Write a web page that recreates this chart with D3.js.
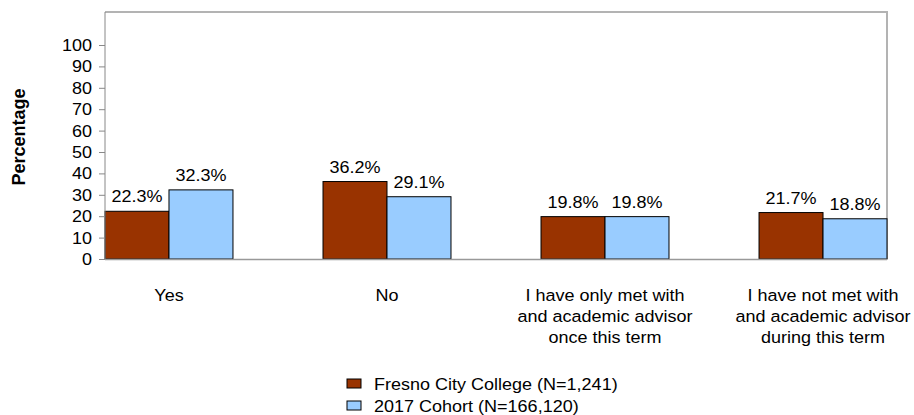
<!DOCTYPE html>
<html>
	<head>
		<meta charset="utf-8">
		<script src="https://cdn.jsdelivr.net/npm/d3@7"></script>
		<style>
			body { margin: 0; background: #fff; }
			text { font-family: Arial, "Liberation Sans", sans-serif; fill: #000; }
		</style>
	</head>
	<body> <svg width="914" height="415"></svg> </body>

	<script>
		// chart values
		var categories = [
			["Yes"],
			["No"],
			["I have only met with", "and academic advisor", "once this term"],
			["I have not met with", "and academic advisor", "during this term"]
		];
		var series_names = ["Fresno City College (N=1,241)", "2017 Cohort (N=166,120)"];
		var fresno = [22.3, 36.2, 19.8, 21.7];
		var cohort = [32.3, 29.1, 19.8, 18.8];
		var y_ticks = [0, 10, 20, 30, 40, 50, 60, 70, 80, 90, 100];

		var svg = d3.select("svg");
		var left = 105, right = 887, top_y = 12, base = 259,
			font = 17,
			stretch = 1.06,   // picture text looks a bit wide
			colors = ["#993300", "#99ccff"],
			frame_color = "#b3b3b3";

		var x = d3.scaleBand()
			.domain(d3.range(categories.length))
			.range([left, right])
			.paddingInner(0.413)
			.paddingOuter(0);

		var x_inner = d3.scaleBand()
			.domain([0, 1])
			.range([0, x.bandwidth()]);

		var y = d3.scaleLinear()
			.domain([0, 100])
			.range([base, 45]);

		// text helper, widened a little to match the picture
		function label(parent, tx, ty, str, anchor, weight) {
			return parent.append("text")
				.attr("transform", "translate(" + tx + "," + ty + ") scale(" + stretch + ",1)")
				.attr("text-anchor", anchor || "middle")
				.attr("font-size", font + "px")
				.attr("font-weight", weight || "normal")
				.text(str);
		}

		// frame top + right
		svg.append("path")
			.attr("d", "M" + left + "," + top_y + "H" + right + "V" + base)
			.attr("fill", "none")
			.attr("stroke", frame_color)
			.attr("stroke-width", 2);

		// bars
		var groups = svg.selectAll("g.grp")
			.data(categories)
			.enter().append("g")
			.attr("class", "grp")
			.attr("transform", function(d, i) { return "translate(" + x(i) + ",0)"; });

		[fresno, cohort].forEach(function(vals, s) {
			groups.append("rect")
				.attr("x", x_inner(s))
				.attr("y", function(d, i) { return y(vals[i]); })
				.attr("width", x_inner.bandwidth())
				.attr("height", function(d, i) { return base - y(vals[i]); })
				.attr("fill", colors[s])
				.attr("stroke", "#000")
				.attr("stroke-width", 1);

			groups.each(function(d, i) {
				label(d3.select(this), x_inner(s) + x_inner.bandwidth() / 2, y(vals[i]) - 9, vals[i].toFixed(1) + "%");
			});
		});

		// y axis
		var y_axis = svg.append("g")
			.attr("transform", "translate(" + left + ",0)")
			.call(d3.axisLeft(y).tickValues(y_ticks).tickSize(6).tickPadding(7).tickFormat(d3.format("d")));
		y_axis.select(".domain").remove();
		y_axis.selectAll(".tick line").attr("stroke", "#888");
		y_axis.selectAll(".tick text").remove();
		y_ticks.forEach(function(t) {
			label(svg, left - 13, y(t) + 6, t, "end");
		});
		svg.append("line")
			.attr("x1", left).attr("x2", left)
			.attr("y1", top_y).attr("y2", base)
			.attr("stroke", "#888");
		svg.append("line")
			.attr("x1", left).attr("x2", right)
			.attr("y1", base + 0.5).attr("y2", base + 0.5)
			.attr("stroke", "#999")
			.attr("stroke-width", 1.5);

		// y title
		svg.append("text")
			.attr("transform", "translate(25,137) rotate(-90)")
			.attr("text-anchor", "middle")
			.attr("font-size", "18px")
			.attr("font-weight", "bold")
			.text("Percentage");

		// category labels
		categories.forEach(function(lines, i) {
			lines.forEach(function(ln, k) {
				label(svg, x(i) + x.bandwidth() / 2, 301 + k * 21, ln);
			});
		});

		// legend
		series_names.forEach(function(name, s) {
			svg.append("rect")
				.attr("x", 347).attr("y", 379 + s * 22)
				.attr("width", 14).attr("height", 9)
				.attr("fill", colors[s])
				.attr("stroke", "#000")
				.attr("stroke-width", 1);
			label(svg, 374, 389.5 + s * 22, name, "start");
		});
	</script>
</html>
